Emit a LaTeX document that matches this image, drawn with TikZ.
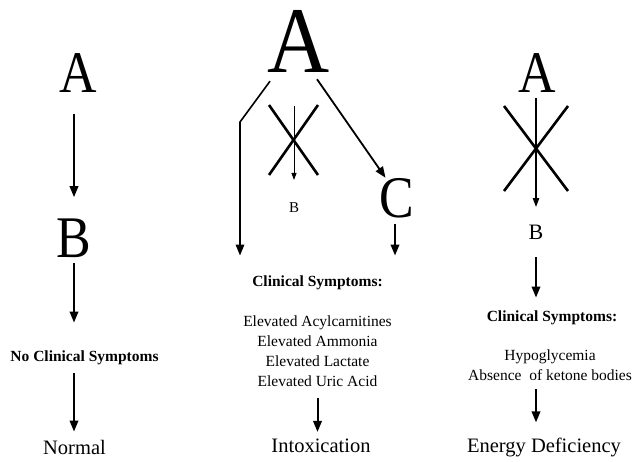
\documentclass[tikz,border=0pt]{standalone}
\usepackage{fontspec}
\setmainfont{Liberation Serif}
\usetikzlibrary{arrows.meta,positioning}

\begin{document}
\begin{tikzpicture}[x=1pt, y=-1pt, >={Triangle[length=11pt,width=8.5pt]},
    every node/.style={inner sep=0pt, anchor=base},
    big/.style={font=\fontsize{59}{59}\selectfont, xscale=0.88},
    lbl/.style={font=\fontsize{15.5}{19.7}\selectfont, align=center},
    head/.style={font=\bfseries\fontsize{15.5}{19}\selectfont},
    res/.style={font=\fontsize{20.5}{22}\selectfont},
    arr/.style={->, line width=2pt},
    thinarr/.style={-{Triangle[length=7pt,width=5pt]}, line width=0.9pt},
    cross/.style={line width=2.6pt}]
    \path[use as bounding box] (0,0) rectangle (636,461);
    % left column
    \node[big] (A1) at (78,92) {A};
    \node[big] (B1) at (74,257) {B};
    \node[head] (ns1) at (84.5,361) {No Clinical Symptoms};
    \node[res] (norm) at (74.5,454.5) {Normal};
    \draw[arr, shorten <=22pt, shorten >=21pt] (A1.south -| B1) -- (B1.north);
    \draw[arr, shorten <=6pt, shorten >=27.5pt] (B1.south) -- (B1.south |- ns1.north);
    \draw[arr, shorten <=8.6pt, shorten >=8.5pt] (ns1.south -| B1) -- (B1 |- norm.north);
    % middle column
    \node[big, font=\fontsize{94}{94}\selectfont, xscale=1.04] (A2) at (299,72) {A};
    \node[font=\fontsize{15}{15}\selectfont] (B2) at (294,212) {B};
    \node[big] (C2) at (397,217) {C};
    \node[head] (cs2) at (317.5,286) {Clinical Symptoms:};
    \node[lbl, anchor=north] (sym2) at (317.5,316) {Elevated Acylcarnitines\\Elevated Ammonia\\Elevated Lactate\\Elevated Uric Acid};
    \node[res] (intox) at (321,452.7) {Intoxication};
    \coordinate (kneeL) at (240,122);
    \draw[cross] (269,105) -- (318,175);
    \draw[cross] (318,105) -- (269,175);
    \draw[thinarr, shorten <=34pt, shorten >=22pt] (A2.south -| B2) -- (B2.north);
    \draw[arr, line width=1.6pt, shorten >=19.5pt] ([shift={(-29,9)}]A2.south) -- (kneeL) -- (kneeL |- cs2.north);
    \draw[arr, line width=1.8pt] ([shift={(18,7)}]A2.south) -- ([xshift=6pt]C2.north west);
    \draw[arr, shorten <=6pt, shorten >=19.5pt] ([xshift=-2pt]C2.south) -- ([xshift=-2pt]C2.south |- cs2.north);
    \draw[arr, shorten <=12pt, shorten >=7pt] (sym2.south) -- (sym2.south |- intox.north);
    % right column
    \node[big] (A3) at (537,92) {A};
    \node[font=\fontsize{22}{22}\selectfont] (B3) at (536,239) {B};
    \node[head] (cs3) at (552,321) {Clinical Symptoms:};
    \node[lbl, anchor=north] (sym3) at (550,350) {Hypoglycemia\\Absence\ \ of ketone bodies};
    \node[res] (ed) at (544,452.7) {Energy Deficiency};
    \draw[cross] (504,106) -- (568,191);
    \draw[cross] (568,106) -- (504,191);
    \draw[arr, line width=1.2pt, -{Triangle[length=9pt,width=6.5pt]}, shorten <=6pt, shorten >=17.4pt] (A3.south -| B3) -- (B3.north);
    \draw[arr, shorten <=18pt, shorten >=12.5pt] (B3.south) -- (B3.south |- cs3.north);
    \draw[arr, shorten <=8pt, shorten >=15.7pt] (sym3.south -| B3) -- (B3 |- ed.north);
\end{tikzpicture}
\end{document}
